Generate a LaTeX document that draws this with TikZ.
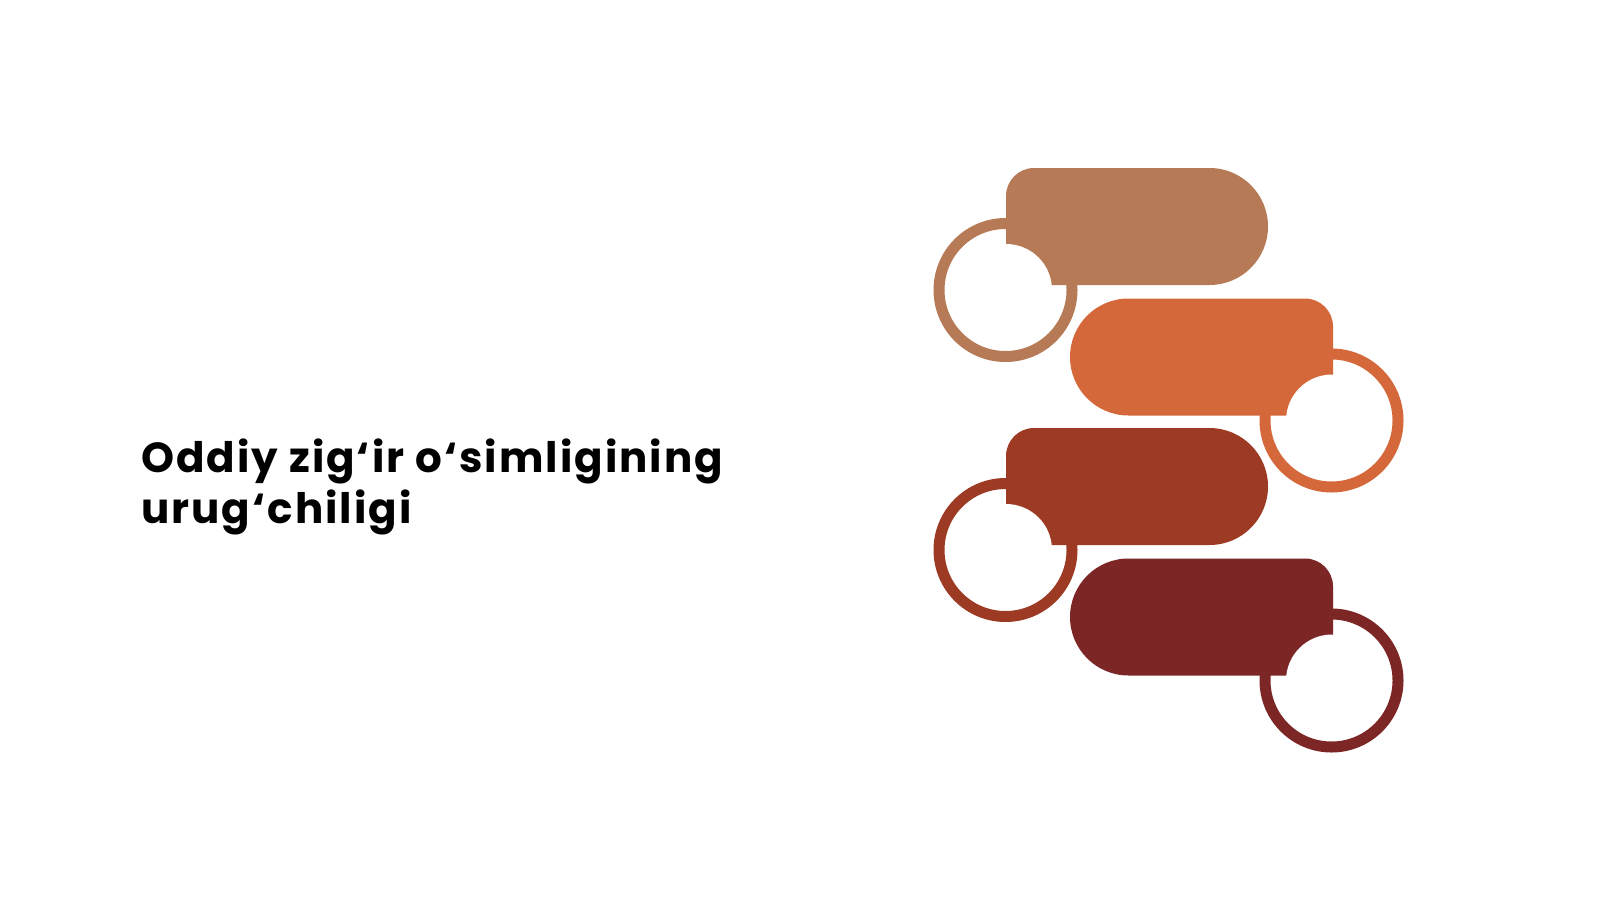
\documentclass[tikz,border=0pt]{standalone}
\usepackage{fontspec}
\newfontfamily\titlefont{Poppins}[LetterSpace=4.8]
\definecolor{cA}{HTML}{B77A56}
\definecolor{cB}{HTML}{D5683A}
\definecolor{cC}{HTML}{9C3A23}
\definecolor{cD}{HTML}{7C2626}
\tikzset{
  ring/.style={line width=11pt},
  hole/.style={fill=white},
  title/.style={font=\titlefont\bfseries\fontsize{42pt}{51pt}\selectfont, text=black, inner sep=0pt, align=left, anchor=base west}
}
\begin{document}
\begin{tikzpicture}[x=1pt,y=-1pt]
\useasboundingbox[fill=white] (0,0) rectangle (1600,900);
% --- left pills (1 and 3) ---
\foreach \T/\col in {168/cA,428/cC}{
  \pgfmathsetmacro{\B}{\T+117}
  \pgfmathsetmacro{\C}{\T+122}
  \draw[ring,\col] (1005.5,\C) circle[radius=66.5];
  \fill[\col] (1006,\B) -- (1006,\T+28) arc[start angle=180,end angle=270,radius=28]
     -- (1209.5,\T) arc[start angle=270,end angle=450,radius=58.5] -- cycle;
  \fill[hole] (1006,\C) circle[radius=46];
}
% --- right pills (2 and 4) ---
\foreach \T/\col in {298.5/cB,558.5/cD}{
  \pgfmathsetmacro{\B}{\T+117}
  \pgfmathsetmacro{\C}{\T+122}
  \draw[ring,\col] (1331.5,\C) circle[radius=66.5];
  \fill[\col] (1333,\B) -- (1128.5,\B) arc[start angle=90,end angle=270,radius=58.5]
     -- (1305,\T) arc[start angle=270,end angle=360,radius=28] -- cycle;
  \fill[hole] (1332,\C) circle[radius=46];
}
\node[title] (t) at (141,523) {Oddiy zig‘ir o‘simligining\\urug‘chiligi};
\end{tikzpicture}
\end{document}
